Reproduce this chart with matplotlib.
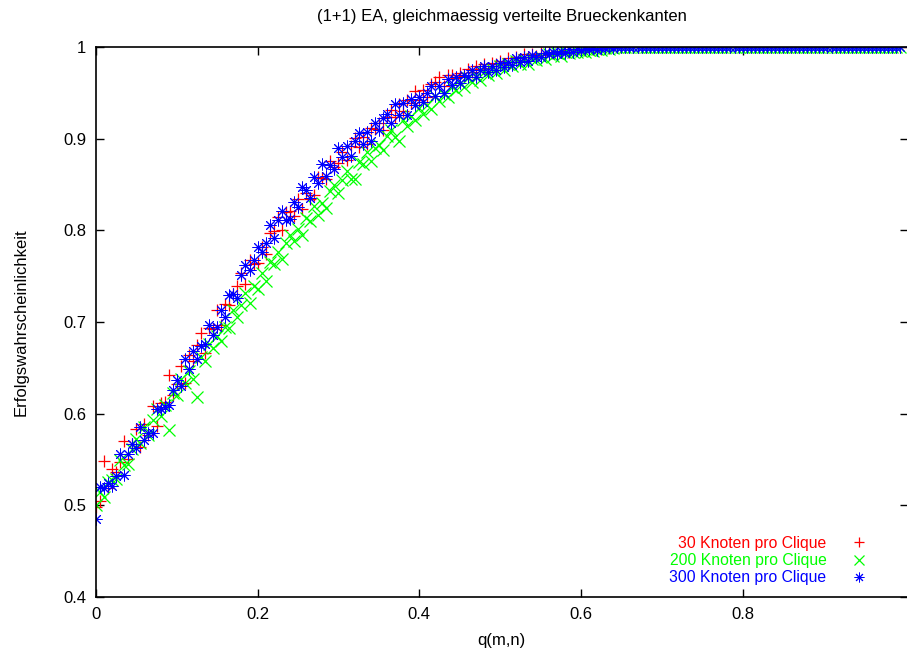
import numpy as np
import matplotlib
matplotlib.use("Agg")
import matplotlib.pyplot as plt
from matplotlib.ticker import FormatStrFormatter

plt.rcParams['font.family'] = ['Liberation Sans', 'DejaVu Sans']
plt.rcParams['font.size'] = 12

# q(m,n) grid, step 0.005
q = np.round(np.arange(0, 1.0, 0.005), 3)

labels = ['30 Knoten pro Clique', '200 Knoten pro Clique', '300 Knoten pro Clique']

# 30 Knoten pro Clique
y30 = [0.498, 0.505, 0.548, 0.519, 0.540, 0.536, 0.547, 0.570, 0.551, 0.567,
       0.583, 0.564, 0.589, 0.577, 0.608, 0.587, 0.612, 0.613, 0.642, 0.620,
       0.632, 0.652, 0.634, 0.664, 0.658, 0.675, 0.688, 0.666, 0.693, 0.692,
       0.713, 0.697, 0.720, 0.719, 0.731, 0.739, 0.753, 0.742, 0.768, 0.763,
       0.764, 0.782, 0.774, 0.797, 0.799, 0.815, 0.800, 0.820, 0.821, 0.816,
       0.834, 0.823, 0.841, 0.834, 0.839, 0.858, 0.857, 0.856, 0.876, 0.869,
       0.873, 0.886, 0.877, 0.892, 0.901, 0.891, 0.902, 0.894, 0.912, 0.911,
       0.917, 0.910, 0.924, 0.931, 0.924, 0.938, 0.930, 0.942, 0.939, 0.952,
       0.942, 0.953, 0.946, 0.960, 0.962, 0.967, 0.957, 0.969, 0.969, 0.966,
       0.972, 0.968, 0.976, 0.973, 0.979, 0.976, 0.981, 0.977, 0.983, 0.981,
       0.985, 0.982, 0.988, 0.984, 0.989, 0.986, 0.992, 0.989, 0.992, 0.990,
       0.994, 0.991, 0.995, 0.993, 0.996, 0.995, 0.997, 0.995, 0.998, 0.997,
       0.998, 0.997, 0.999, 0.998, 0.999, 0.998, 1.000, 0.999, 1.000, 1.000] + [1.0] * 70

# 200 Knoten pro Clique
y200 = [0.500, 0.515, 0.509, 0.525, 0.528, 0.529, 0.549, 0.544, 0.545, 0.562,
        0.572, 0.568, 0.586, 0.577, 0.593, 0.605, 0.597, 0.609, 0.582, 0.623,
        0.620, 0.638, 0.633, 0.647, 0.638, 0.618, 0.662, 0.657, 0.676, 0.672,
        0.685, 0.679, 0.695, 0.694, 0.713, 0.705, 0.719, 0.732, 0.721, 0.739,
        0.736, 0.753, 0.745, 0.766, 0.763, 0.776, 0.769, 0.786, 0.795, 0.788,
        0.802, 0.795, 0.814, 0.810, 0.827, 0.817, 0.830, 0.824, 0.843, 0.850,
        0.841, 0.855, 0.865, 0.856, 0.856, 0.875, 0.872, 0.885, 0.876, 0.890,
        0.893, 0.888, 0.903, 0.910, 0.902, 0.898, 0.920, 0.914, 0.925, 0.920,
        0.933, 0.927, 0.937, 0.932, 0.947, 0.941, 0.949, 0.945, 0.956, 0.953,
        0.961, 0.956, 0.966, 0.962, 0.968, 0.964, 0.973, 0.970, 0.976, 0.972,
        0.979, 0.975, 0.981, 0.979, 0.985, 0.981, 0.986, 0.982, 0.987, 0.986,
        0.989, 0.987, 0.992, 0.990, 0.993, 0.990, 0.995, 0.993, 0.995, 0.995,
        0.996, 0.995, 0.997, 0.996, 0.998, 0.997, 0.999, 0.998, 0.999, 1.000] + [1.0] * 70

# 300 Knoten pro Clique
y300 = [0.485, 0.520, 0.519, 0.524, 0.521, 0.532, 0.556, 0.533, 0.556, 0.567,
        0.563, 0.585, 0.571, 0.579, 0.579, 0.605, 0.605, 0.607, 0.609, 0.626,
        0.637, 0.630, 0.660, 0.649, 0.668, 0.660, 0.674, 0.676, 0.697, 0.686,
        0.695, 0.713, 0.706, 0.730, 0.731, 0.726, 0.751, 0.762, 0.757, 0.768,
        0.782, 0.776, 0.786, 0.806, 0.792, 0.811, 0.821, 0.811, 0.812, 0.831,
        0.825, 0.847, 0.844, 0.835, 0.858, 0.852, 0.872, 0.859, 0.871, 0.867,
        0.890, 0.880, 0.892, 0.881, 0.898, 0.906, 0.894, 0.907, 0.897, 0.917,
        0.909, 0.923, 0.927, 0.917, 0.938, 0.926, 0.939, 0.926, 0.943, 0.937,
        0.946, 0.940, 0.950, 0.957, 0.947, 0.958, 0.950, 0.965, 0.959, 0.967,
        0.961, 0.970, 0.967, 0.975, 0.967, 0.975, 0.979, 0.973, 0.979, 0.975,
        0.983, 0.978, 0.984, 0.980, 0.988, 0.984, 0.989, 0.985, 0.991, 0.989,
        0.989, 0.994, 0.992, 0.995, 0.992, 0.996, 0.994, 0.998, 0.995, 0.998,
        0.997, 0.998, 0.998, 0.999, 0.997, 0.999, 0.999, 1.000, 0.999, 1.000] + [1.0] * 70

colors = ['#ff0000', '#00ff00', '#0000ff']
markers = ['+', 'x', (8, 2, 0)]
edge_widths = [0.9, 0.9, 0.7]

fig = plt.figure(figsize=(9.07, 6.51), dpi=100)
ax = fig.add_axes([0.1058, 0.0829, 0.8950, 0.8449])

for ys, c, m, w, lab in zip([y30, y200, y300], colors, markers, edge_widths, labels):
    ax.plot(q, ys, linestyle='none', marker=m, color=c, markersize=8.5,
            markeredgewidth=w, label=lab)

ax.set_xlim(0, 1.0043)
ax.set_ylim(0.4, 1.0)
ax.set_xticks([0, 0.2, 0.4, 0.6, 0.8])
ax.set_yticks([0.4, 0.5, 0.6, 0.7, 0.8, 0.9, 1.0])
ax.xaxis.set_major_formatter(FormatStrFormatter('%g'))
ax.yaxis.set_major_formatter(FormatStrFormatter('%g'))
ax.tick_params(direction='in', length=6, width=1, top=True, right=True, pad=7)
for s in ax.spines.values():
    s.set_linewidth(1.2)

ax.set_title('(1+1) EA, gleichmaessig verteilte Brueckenkanten', fontsize=12, pad=19)
ax.set_xlabel('q(m,n)', labelpad=8)
ax.set_ylabel('Erfolgswahrscheinlichkeit', labelpad=25)

leg = ax.legend(loc='lower right', bbox_to_anchor=(0.955, 0.021), frameon=False,
                markerfirst=False, labelcolor='linecolor', handlelength=1.5,
                handletextpad=1.35, labelspacing=0.15, borderpad=0, borderaxespad=0,
                fontsize=11.3)
for h in leg.legend_handles:
    h.set_markersize(7)

fig.savefig('out.png', dpi=100)
